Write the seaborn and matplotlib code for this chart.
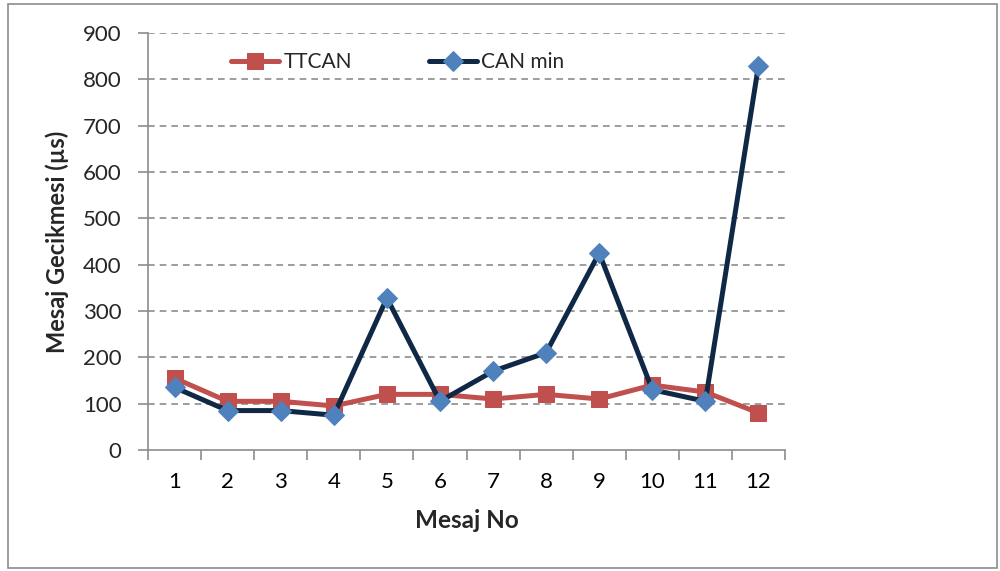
import matplotlib
matplotlib.use("Agg")
import matplotlib.pyplot as plt
from matplotlib.patches import Rectangle
from matplotlib.ticker import FixedLocator, NullFormatter
import seaborn as sns
import pandas as pd

messages = [1, 2, 3, 4, 5, 6, 7, 8, 9, 10, 11, 12]
ttcan = [155, 105, 105, 95, 120, 120, 110, 120, 110, 140, 125, 80]
can_min = [135, 85, 85, 75, 328, 105, 170, 210, 425, 130, 105, 830]
y_ticks = [0, 100, 200, 300, 400, 500, 600, 700, 800, 900]

sns.set_theme(style="white")
plt.rcParams["font.family"] = ["Lato", "DejaVu Sans"]

fig = plt.figure(figsize=(10, 5.71), dpi=100)
ax = fig.add_axes([0.148, 0.212, 0.637, 0.730])

df = pd.DataFrame({"Mesaj No": messages, "TTCAN": ttcan, "CAN min": can_min})

sns.lineplot(data=df, x="Mesaj No", y="TTCAN", ax=ax, color="#C0504D",
             linewidth=3.6, marker="s", markersize=12,
             markerfacecolor="#C0504D", markeredgecolor="#C0504D",
             label="TTCAN", zorder=3)
sns.lineplot(data=df, x="Mesaj No", y="CAN min", ax=ax, color="#0F2846",
             linewidth=3.6, marker="D", markersize=10,
             markerfacecolor="#4F81BD", markeredgecolor="#4F81BD",
             label="CAN min", zorder=4)

ax.set_xlim(0.5, 12.5)
ax.set_ylim(0, 900)
ax.set_yticks(y_ticks)
ax.set_xticks(messages)
ax.xaxis.set_minor_locator(FixedLocator([m + 0.5 for m in [0] + messages]))
ax.xaxis.set_minor_formatter(NullFormatter())
ax.tick_params(axis="x", which="major", length=0, labelsize=16, pad=16, colors="black")
ax.tick_params(axis="x", which="minor", length=7, width=1.2, color="#8C8C8C", direction="out", bottom=True)
ax.tick_params(axis="y", length=7, width=1.2, color="#8C8C8C", direction="out", labelsize=16, pad=12, left=True)

ax.grid(axis="y", linestyle=(0, (4, 3)), color="#8C8C8C", linewidth=1.2)
ax.grid(axis="x", visible=False)
for g in ax.get_ygridlines()[:1]:
    g.set_visible(False)

for side in ["top", "right"]:
    ax.spines[side].set_visible(False)
for side in ["left", "bottom"]:
    ax.spines[side].set_color("#8C8C8C")
    ax.spines[side].set_linewidth(1.2)

ax.set_xlabel("Mesaj No", fontsize=17.5, fontweight="bold", labelpad=12)
ax.set_ylabel("Mesaj Gecikmesi (µs)", fontsize=17, fontweight="bold", labelpad=10)

ax.legend(loc="center", bbox_to_anchor=(0.392, 0.931), ncol=2, frameon=False,
          fontsize=15, handlelength=2.3, columnspacing=3.7, handletextpad=0.2,
          facecolor="white")

fig.patches.append(Rectangle((0.008, 0.005), 0.989, 0.988, transform=fig.transFigure,
                             fill=False, edgecolor="#8C8C8C", linewidth=1.2))

fig.savefig("out.png", dpi=100)
